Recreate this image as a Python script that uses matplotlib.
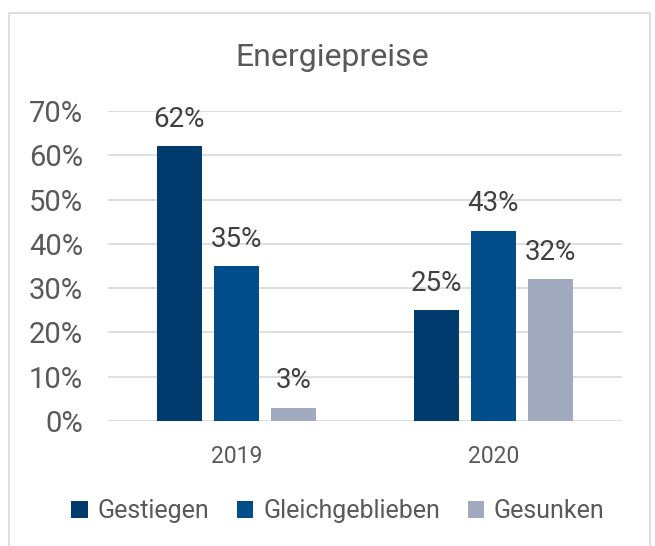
import matplotlib
matplotlib.use('Agg')
import matplotlib.pyplot as plt
import numpy as np
from matplotlib.patches import Rectangle

plt.rcParams['font.family'] = ['Roboto', 'DejaVu Sans']

# Daten
jahre = ['2019', '2020']
serien = ['Gestiegen', 'Gleichgeblieben', 'Gesunken']
gestiegen = [62, 25]
gleichgeblieben = [35, 43]
gesunken = [3, 32]
farben = ['#003B6E', '#004D8A', '#A2AABF']
text_farbe = '#595959'

fig = plt.figure(figsize=(6.55, 5.46), dpi=100)
ax = fig.add_axes([108 / 655, 1 - 421 / 546, 514 / 655, 310 / 546])

# Rahmen um das Diagramm
fig.patches.append(Rectangle((9 / 655, -0.01), 641 / 655, 1 - 13 / 546 + 0.01,
                             transform=fig.transFigure, fill=False,
                             edgecolor='#D9D9D9', linewidth=1.2))

x = np.arange(len(jahre))
breite = 0.175
abstand = 0.222
for i, (werte, name) in enumerate(zip([gestiegen, gleichgeblieben, gesunken], serien)):
    pos = x + (i - 1) * abstand
    bars = ax.bar(pos, werte, breite, color=farben[i], label=name, zorder=3)
    for b, w in zip(bars, werte):
        ax.text(b.get_x() + b.get_width() / 2, w + 3.0, f'{w}%',
                ha='center', va='bottom', fontsize=20, color='#404040')

ax.set_ylim(0, 70)
ax.set_xlim(-0.5, 1.5)
ax.set_yticks(range(0, 71, 10))
ax.set_yticklabels([f'{v}%' for v in range(0, 71, 10)])
ax.set_xticks(x)
ax.set_xticklabels(jahre)
ax.tick_params(axis='y', length=0, pad=18, labelsize=21, labelcolor=text_farbe)
ax.tick_params(axis='x', length=0, pad=17, labelsize=16.5, labelcolor=text_farbe)
ax.grid(axis='y', color='#D9D9D9', linewidth=1.2, zorder=0)
for s in ax.spines.values():
    s.set_visible(False)

fig.text(332 / 655, 1 - 58 / 546, 'Energiepreise', ha='center', va='center',
         fontsize=23, color=text_farbe)

fig.legend(loc='center', bbox_to_anchor=(338 / 655, 1 - 511 / 546), ncol=3,
           frameon=False, fontsize=18, labelcolor=text_farbe,
           handlelength=0.65, handleheight=0.65, handletextpad=0.4,
           columnspacing=1.1)

fig.savefig('out.png', dpi=100)
